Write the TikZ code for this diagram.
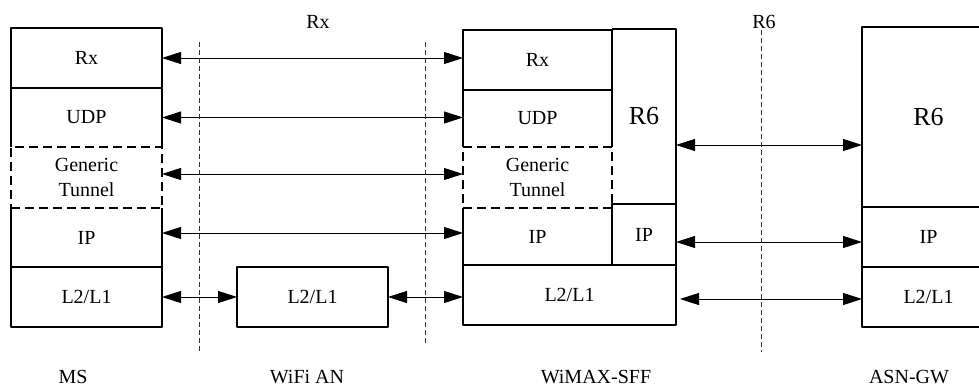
\documentclass[tikz,border=0pt]{standalone}
\usepackage{fontspec}
\setmainfont{Liberation Serif}
\usetikzlibrary{arrows.meta, calc}

\begin{document}
\begin{tikzpicture}[x=1pt, y=-1pt, line join=round,
    layer/.style={minimum width=151pt, minimum height=60pt, inner sep=0pt, outer sep=0pt, font=\fontsize{20}{22}\selectfont},
    box/.style={draw, line width=1.2pt},
    tunnel/.style={draw, line width=1.2pt, dash pattern=on 9pt off 5pt, align=center, font=\fontsize{20}{25}\selectfont},
    big/.style={font=\fontsize{26}{28}\selectfont},
    link/.style={line width=0.9pt, {Triangle[length=19pt,width=12pt]}-{Triangle[length=19pt,width=12pt]}},
    border/.style={line width=0.8pt, dash pattern=on 5pt off 3pt, black!80},
    tag/.style={anchor=base, font=\fontsize{20}{22}\selectfont}]

    % Picture frame
    \useasboundingbox (0,0) rectangle (979,385);
    \clip (0,0) rectangle (979,385);

    % ==========================================
    % PROTOCOL STACKS
    % ==========================================

    % MS
    \node[layer, box] (msrx) at (86.5,58) {Rx};
    \node[layer, minimum height=59pt] (msudp) at (86.5,117.5) {UDP};
    \node[layer, tunnel, minimum height=61pt] (mstun) at (86.5,177.5) {Generic\\Tunnel};
    \node[layer, minimum height=59pt] (msip) at (86.5,237.5) {IP};
    \node[layer, box] (msl2) at (86.5,297) {L2/L1};
    % sides only, the tunnel box gives the dashed edges
    \draw[line width=1.2pt] (msudp.south west) -- (msudp.north west) (msudp.north east) -- (msudp.south east);
    \draw[line width=1.2pt] (msip.north west) -- (msip.south west) -- (msip.south east) -- (msip.north east);

    % WiFi AN
    \node[layer, box] (wfl2) at (312.5,297) {L2/L1};

    % WiMAX-SFF
    \node[layer, box, minimum width=149pt] (sfrx) at (537.5,60) {Rx};
    \node[layer, minimum width=149pt, minimum height=57pt] (sfudp) at (537.5,118.5) {UDP};
    \node[layer, tunnel, minimum width=149pt, minimum height=61pt] (sftun) at (537.5,177.5) {Generic\\Tunnel};
    \node[layer, minimum width=149pt, minimum height=57pt] (sfip) at (537.5,236.5) {IP};
    \node[layer, big, minimum width=64pt, minimum height=175pt] (sfr6) at (644,116.5) {R6};
    \node[layer, box, minimum width=64pt, minimum height=61pt] (sfip2) at (644,234.5) {IP};
    \node[layer, box, minimum width=213pt] (sfl2) at (569.5,295) {L2/L1};
    \draw[line width=1.2pt] (sfudp.south west) -- (sfudp.north west) (sfudp.north east) -- (sfudp.south east);
    \draw[line width=1.2pt] (sfip.north west) -- (sfip.south west) -- (sfip.south east) -- (sfip.north east);
    \draw[line width=1.2pt] (sfr6.south east) |- (sfr6.north west);

    % ASN-GW (runs past the right edge)
    \node[layer, box, big, minimum width=133pt, minimum height=180pt] (gwr6) at (928.5,117) {R6};
    \node[layer, box, minimum width=133pt] (gwip) at (928.5,237) {IP};
    \node[layer, box, minimum width=133pt] (gwl2) at (928.5,297) {L2/L1};

    % ==========================================
    % PEER LINKS
    % ==========================================

    \draw[link] (msrx.east) -- (msrx.east -| sfrx.west);
    \draw[link] (msudp.east) -- (msudp.east -| sfudp.west);
    \draw[link] ([yshift=3.5pt]mstun.east) -- ([yshift=3.5pt]mstun.east -| sftun.west);
    \draw[link] ([yshift=4.5pt]msip.east) -- ([yshift=4.5pt]msip.east -| sfip.west);
    \draw[link] (msl2.east) -- (wfl2.west);
    \draw[link] (wfl2.east) -- (wfl2.east -| sfl2.west);

    \draw[link] (sfr6.east |- 0,145) -- (gwr6.west |- 0,145);
    \draw[link] (sfip2.east |- 0,242) -- (gwip.west |- 0,242);
    \draw[link] ($(sfl2.east)+(4,4)$) -- ($(gwl2.west)+(0,2)$);

    % ==========================================
    % REFERENCE POINTS AND LABELS
    % ==========================================

    \draw[border] (199,42) -- (199,352);
    \draw[border] (425,42) -- (425,343);
    \draw[border] (761,30) -- (761,352);

    \node[tag] (rxlab) at (318,29) {Rx};
    \node[tag] (r6lab) at (764,29) {R6};

    \node[tag] (mslab) at (73,383) {MS};
    \node[tag] (wflab) at (307,383) {WiFi AN};
    \node[tag] (sflab) at (596,383) {WiMAX-SFF};
    \node[tag] (gwlab) at (909,383) {ASN-GW};

\end{tikzpicture}
\end{document}
